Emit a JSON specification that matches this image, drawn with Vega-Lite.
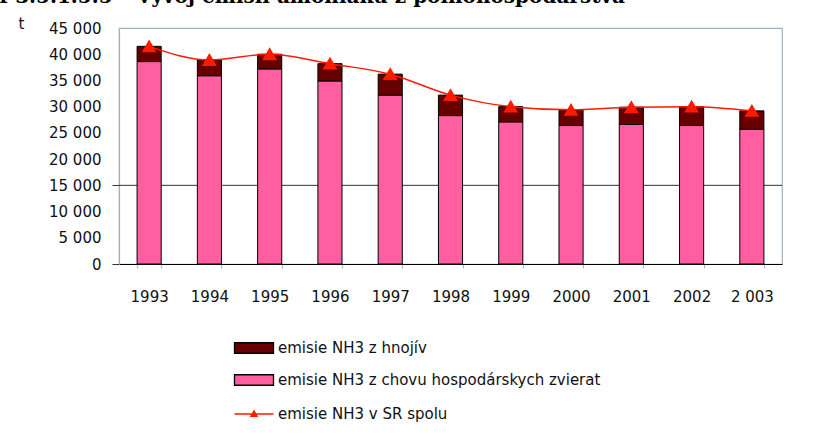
{
  "$schema": "https://vega.github.io/schema/vega-lite/v6.json",
  "width": 663,
  "height": 236,
  "autosize": {"type": "none"},
  "padding": {"left": 119, "top": 28, "right": 39, "bottom": 170},
  "background": "white",
  "title": {
    "text": "Graf 3.5.1.5.5 – Vývoj emisií amoniaku z poľnohospodárstva",
    "anchor": "start",
    "frame": "group",
    "font": "DejaVu Serif",
    "fontSize": 20,
    "fontWeight": "bold",
    "color": "#000000",
    "baseline": "alphabetic",
    "dx": -160,
    "dy": 13,
    "offset": 6
  },
  "datasets": {
    "bars": [
      {"rok": "1993", "typ": "emisie NH3 z chovu hospodárskych zvierat", "t": 38600},
      {"rok": "1993", "typ": "emisie NH3 z hnojív", "t": 2900},
      {"rok": "1994", "typ": "emisie NH3 z chovu hospodárskych zvierat", "t": 35900},
      {"rok": "1994", "typ": "emisie NH3 z hnojív", "t": 3000},
      {"rok": "1995", "typ": "emisie NH3 z chovu hospodárskych zvierat", "t": 37200},
      {"rok": "1995", "typ": "emisie NH3 z hnojív", "t": 2800},
      {"rok": "1996", "typ": "emisie NH3 z chovu hospodárskych zvierat", "t": 34900},
      {"rok": "1996", "typ": "emisie NH3 z hnojív", "t": 3300},
      {"rok": "1997", "typ": "emisie NH3 z chovu hospodárskych zvierat", "t": 32200},
      {"rok": "1997", "typ": "emisie NH3 z hnojív", "t": 4000},
      {"rok": "1998", "typ": "emisie NH3 z chovu hospodárskych zvierat", "t": 28300},
      {"rok": "1998", "typ": "emisie NH3 z hnojív", "t": 3900},
      {"rok": "1999", "typ": "emisie NH3 z chovu hospodárskych zvierat", "t": 27100},
      {"rok": "1999", "typ": "emisie NH3 z hnojív", "t": 2900},
      {"rok": "2000", "typ": "emisie NH3 z chovu hospodárskych zvierat", "t": 26400},
      {"rok": "2000", "typ": "emisie NH3 z hnojív", "t": 3000},
      {"rok": "2001", "typ": "emisie NH3 z chovu hospodárskych zvierat", "t": 26600},
      {"rok": "2001", "typ": "emisie NH3 z hnojív", "t": 3300},
      {"rok": "2002", "typ": "emisie NH3 z chovu hospodárskych zvierat", "t": 26400},
      {"rok": "2002", "typ": "emisie NH3 z hnojív", "t": 3600},
      {"rok": "2 003", "typ": "emisie NH3 z chovu hospodárskych zvierat", "t": 25700},
      {"rok": "2 003", "typ": "emisie NH3 z hnojív", "t": 3500}
    ],
    "total": [
      {"rok": "1993", "t": 41500},
      {"rok": "1994", "t": 38900},
      {"rok": "1995", "t": 40000},
      {"rok": "1996", "t": 38200},
      {"rok": "1997", "t": 36200},
      {"rok": "1998", "t": 32200},
      {"rok": "1999", "t": 30000},
      {"rok": "2000", "t": 29400},
      {"rok": "2001", "t": 29900},
      {"rok": "2002", "t": 30000},
      {"rok": "2 003", "t": 29200}
    ],
    "mriezka": [
      {"t": 15000}
    ]
  },
  "layer": [
    {
      "data": {"name": "mriezka"},
      "mark": {"type": "rule", "color": "#333333", "strokeWidth": 1},
      "encoding": {"y": {"field": "t", "type": "quantitative", "scale": {"domain": [0, 45000], "nice": false}, "axis": {"title": "t", "tickCount": 9, "labelOverlap": false}}}
    },
    {
      "data": {"name": "bars"},
      "mark": {"type": "bar", "stroke": "#000000", "strokeWidth": 1},
      "encoding": {
        "x": {
          "field": "rok",
          "type": "nominal",
          "sort": null,
          "scale": {"paddingInner": 0.6, "paddingOuter": 0.3}
        },
        "y": {
          "field": "t",
          "type": "quantitative",
          "stack": "zero",
          "axis": {"title": "t", "tickCount": 9, "labelOverlap": false}
        },
        "order": {"field": "typ", "sort": "ascending"},
        "fill": {
          "field": "typ",
          "type": "nominal",
          "scale": {
            "domain": ["emisie NH3 z hnojív", "emisie NH3 z chovu hospodárskych zvierat"],
            "range": ["#660000", "#FF5FA0"]
          },
          "legend": {
            "orient": "none",
            "legendX": 119,
            "legendY": 304,
            "title": null,
            "symbolSize": 900,
            "symbolType": "M-1.3,-0.35L1.3,-0.35L1.3,0.35L-1.3,0.35Z",
            "symbolStrokeColor": "#000000",
            "symbolStrokeWidth": 1.3,
            "symbolOpacity": 1,
            "labelFont": "DejaVu Sans",
            "labelFontSize": 15,
            "labelColor": "#111111",
            "labelOffset": 8,
            "labelLimit": 0,
            "rowPadding": 8,
            "padding": 0
          }
        }
      }
    },
    {
      "data": {"name": "total"},
      "mark": {
        "type": "line",
        "interpolate": "monotone",
        "strokeWidth": 1.5,
        "point": {"shape": "triangle-up", "size": 130, "filled": true, "fill": "#FF1A00", "color": "#FF1A00"}
      },
      "encoding": {
        "x": {"field": "rok", "type": "nominal", "sort": null},
        "y": {"field": "t", "type": "quantitative"},
        "stroke": {
          "datum": "emisie NH3 v SR spolu",
          "scale": {"domain": ["emisie NH3 v SR spolu"], "range": ["#FF1A00"]},
          "legend": {
            "orient": "none",
            "legendX": 119,
            "legendY": 370,
            "title": null,
            "symbolSize": 900,
            "symbolType": "M-1.3,0L1.3,0M-0.2,0.15L0,-0.2L0.2,0.15Z",
            "symbolFillColor": "#FF1A00",
            "symbolStrokeWidth": 1.5,
            "symbolOpacity": 1,
            "labelFont": "DejaVu Sans",
            "labelFontSize": 15,
            "labelColor": "#111111",
            "labelOffset": 8,
            "labelLimit": 0,
            "padding": 0
          }
        }
      }
    }
  ],
  "config": {
    "font": "DejaVu Sans",
    "view": {"stroke": "#9DB3C1", "strokeWidth": 1.2},
    "axisX": {
      "title": null,
      "labelAngle": 0,
      "labelFont": "DejaVu Sans",
      "labelFontSize": 15,
      "labelColor": "#111111",
      "domainColor": "#000000",
      "domainWidth": 1.2,
      "tickBand": "extent",
      "tickColor": "#A8B8C4",
      "tickSize": 4,
      "labelPadding": 21,
      "grid": false
    },
    "axisY": {
      "titleAngle": 0,
      "titleX": -101,
      "titleY": -5,
      "titleAlign": "left",
      "titleBaseline": "middle",
      "titleFontWeight": "normal",
      "titleFont": "DejaVu Sans",
      "titleFontSize": 15,
      "titleColor": "#111111",
      "labelExpr": "replace(format(datum.value, ','), ',', ' ')",
      "labelOverlap": false,
      "tickCount": 9,
      "labelFont": "DejaVu Sans",
      "labelFontSize": 15,
      "labelColor": "#111111",
      "labelPadding": 11,
      "tickSize": 7,
      "tickColor": {"expr": "datum.value == 15000 || datum.value == 0 ? '#333333' : 'transparent'"},
      "domainColor": "#9DB3C1",
      "domainWidth": 1.2,
      "grid": false
    }
  }
}
